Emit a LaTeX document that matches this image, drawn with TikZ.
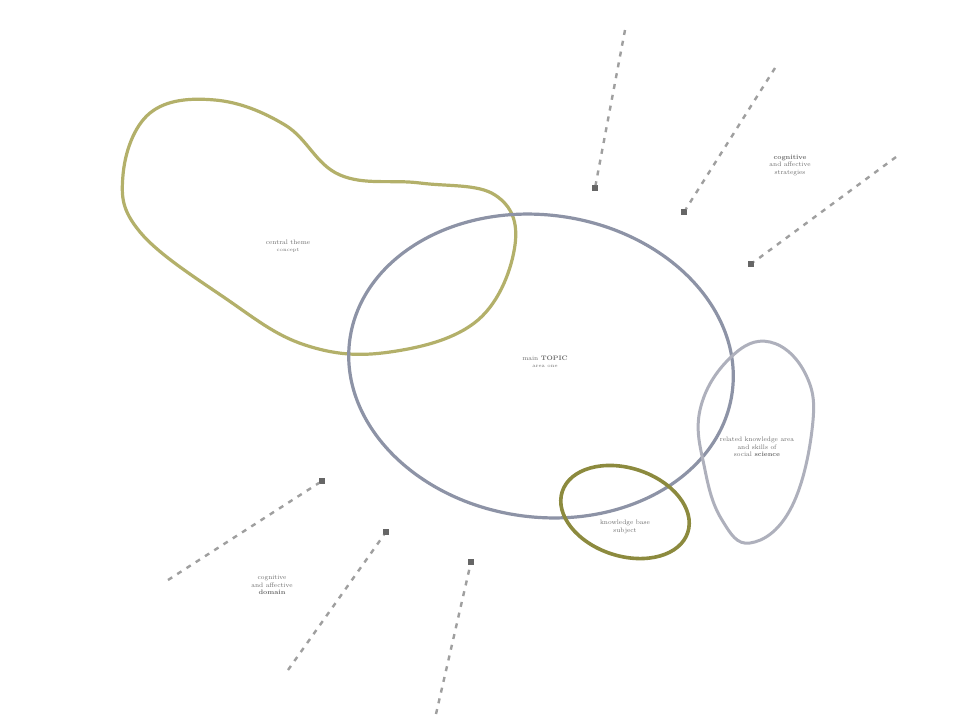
\documentclass[tikz,border=0pt]{standalone}
\usetikzlibrary{calc}
\begin{document}
\begin{tikzpicture}[x=1pt,y=-1pt,
  olive/.style={draw=olive1,line width=3.2pt},
  olivedark/.style={draw=olive2,line width=3.6pt},
  bluegray/.style={draw=blue1,line width=3.2pt},
  lightgray/.style={draw=blue2,line width=3.0pt},
  ray/.style={draw=gray!75,line width=2.4pt,dash pattern=on 5pt off 6pt},
  tip/.style={fill=gray!80!black,minimum size=5.5pt,inner sep=0pt,rectangle},
  lbl/.style={font=\fontsize{6.5}{7.5}\selectfont,text=gray!85!black,align=center}]
\definecolor{olive1}{HTML}{B3B06A}
\definecolor{olive2}{HTML}{8C8A3E}
\definecolor{blue1}{HTML}{8D93A6}
\definecolor{blue2}{HTML}{AEB0BC}
\useasboundingbox (0,0) rectangle (976,718);
\fill[white] (0,0) rectangle (976,718);
% kidney
\draw[olive] plot[smooth cycle,tension=0.65] coordinates {(215,100) (285,125) (340,175) (420,183) (495,195) (515,245) (478,320) (390,352) (305,345) (225,298) (140,232) (123,175) (150,113)};
% center ellipse
\draw[bluegray,rotate around={-8:(541,366)}] (541,366) ellipse [x radius=193, y radius=151];
% right egg
\draw[lightgray] plot[smooth cycle,tension=0.7] coordinates {(770,342) (806,375) (812,430) (790,510) (750,543) (722,520) (705,470) (700,410) (730,358)};
% small ellipse
\draw[olivedark,rotate around={-18:(625,512)}] (625,512) ellipse [x radius=66, y radius=44];
% texts
\node[lbl] (tk) at (288,246) {central theme\\{\fontsize{5}{6}\selectfont concept}};
\node[lbl] (tc) at (545,362) {main \textbf{TOPIC}\\{\fontsize{5}{6}\selectfont area one}};
\node[lbl] (tr) at (757,447) {related knowledge area\\and skills of\\social \textbf{science}};
\node[lbl] (ts) at (625,527) {knowledge base\\subject};
\node[lbl] (ttr) at (790,165) {\textbf{cognitive}\\and affective\\strategies};
\node[lbl] (tbl) at (272,585) {cognitive\\and affective\\\textbf{domain}};
% rays
\coordinate (a1) at (625,30); \node[tip] (b1) at (595,188) {};
\coordinate (a2) at (775,68); \node[tip] (b2) at (684,212) {};
\coordinate (a3) at (896,157); \node[tip] (b3) at (751,264) {};
\coordinate (a4) at (168,580); \node[tip] (b4) at (322,481) {};
\coordinate (a5) at (288,670); \node[tip] (b5) at (386,532) {};
\coordinate (a6) at (436,714); \node[tip] (b6) at (471,562) {};
\foreach \i in {1,...,6} {\draw[ray] (a\i) -- (b\i);}
\end{tikzpicture}
\end{document}
